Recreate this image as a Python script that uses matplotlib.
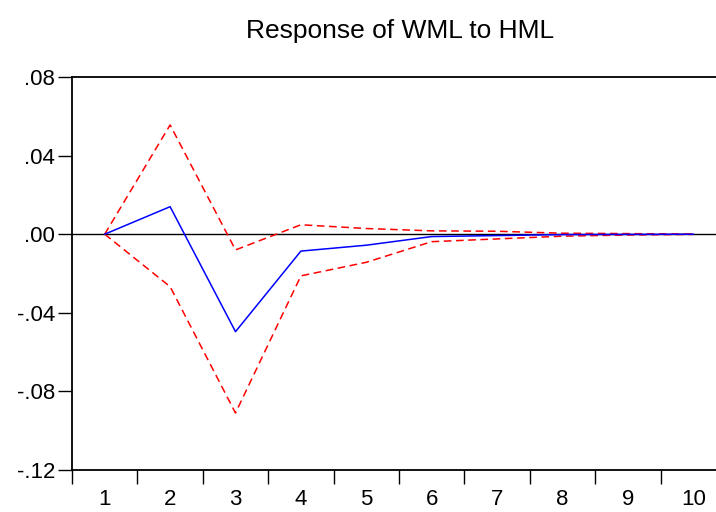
import numpy as np
import matplotlib
matplotlib.use('Agg')
import matplotlib.pyplot as plt
from matplotlib.ticker import FixedLocator, FuncFormatter

plt.rcParams['font.family'] = ['Liberation Sans', 'DejaVu Sans']

periods = np.arange(1, 11)
response = [0.0, 0.014, -0.0496, -0.0086, -0.0056, -0.0012, -0.0007, -0.0002, -0.0001, 0.0]
upper = [0.0, 0.0556, -0.0080, 0.0048, 0.0029, 0.0017, 0.0015, 0.0005, 0.0003, 0.0001]
lower = [0.0, -0.0267, -0.0910, -0.0212, -0.0143, -0.0038, -0.0024, -0.0010, -0.0004, -0.0001]
yticks = [-0.12, -0.08, -0.04, 0.0, 0.04, 0.08]

fig = plt.figure(figsize=(7.16, 5.12), dpi=100)
# right edge of the frame runs past the canvas
ax = fig.add_axes([72/716, 42/512, 654/716, 393/512])

ax.axhline(0, color='black', lw=1.0, zorder=1)
ax.plot(periods, response, color='blue', lw=1.1, zorder=3)
ax.plot(periods, upper, color='red', lw=1.1, ls=(0, (5, 3)), zorder=2)
ax.plot(periods, lower, color='red', lw=1.1, ls=(0, (5, 3)), zorder=2)

ax.set_xlim(0.5, 10.5)
ax.set_ylim(-0.12, 0.08)

ax.xaxis.set_major_locator(FixedLocator(periods))
ax.xaxis.set_minor_locator(FixedLocator(np.arange(0.5, 11, 1.0)))
ax.tick_params(axis='x', which='major', length=0, pad=14, labelsize=16)
ax.tick_params(axis='x', which='minor', length=10, width=1.0, direction='out')

ax.set_yticks(yticks)
ax.yaxis.set_major_formatter(FuncFormatter(
    lambda v, p: ('-' if v < -1e-9 else '') + ('%.2f' % abs(v)).lstrip('0')))
ax.tick_params(axis='y', length=10, width=1.0, direction='out', pad=2, labelsize=16)

for side in ['left', 'top', 'bottom', 'right']:
    ax.spines[side].set_linewidth(1.3)

fig.text(400/716, 1 - 31/512, 'Response of WML to HML', ha='center', va='center', fontsize=19)

fig.savefig('out.png', dpi=100)
